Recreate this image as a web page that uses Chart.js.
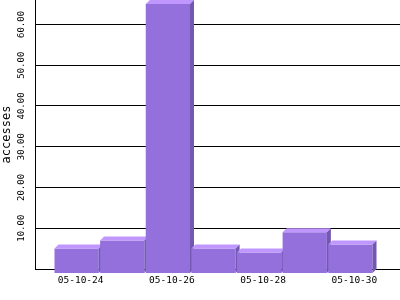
<!DOCTYPE html>
<html>
<head>
<meta charset="utf-8">
<script src="https://cdn.jsdelivr.net/npm/chart.js@4/dist/chart.umd.min.js"></script>
<style>
  html, body { margin: 0; padding: 0; background: #fff; }
  canvas { display: block; }
</style>
</head>
<body>
<canvas id="grafico" width="400" height="300"></canvas>
<script>
const dias = ['05-10-24', '05-10-25', '05-10-26', '05-10-27', '05-10-28', '05-10-29', '05-10-30'];
const accesos = [6, 8, 66, 6, 5, 10, 7];
const ticksY = [10, 20, 30, 40, 50, 60];
const ticksX = [0, 2, 4, 6];

const PROF = 4; // profundidad del efecto 3d

// dibuja cada barra con cara frontal, tapa y lateral
const barras3d = {
    id: 'barras3d',
    beforeDatasetDraw(chart, args) {
        const ctx = chart.ctx;
        const meta = args.meta;
        meta.data.forEach(el => {
            const p = el.getProps(['x', 'y', 'base', 'width'], true);
            const izq = p.x - p.width / 2 - PROF;
            const der = p.x + p.width / 2 - PROF;
            const arriba = p.y + PROF;
            const abajo = p.base + PROF;

            ctx.save();
            ctx.translate(-PROF, PROF);
            el.draw(ctx);
            ctx.restore();

            ctx.fillStyle = '#c096ff';
            ctx.beginPath();
            ctx.moveTo(izq, arriba);
            ctx.lineTo(izq + PROF, arriba - PROF);
            ctx.lineTo(der + PROF, arriba - PROF);
            ctx.lineTo(der, arriba);
            ctx.closePath();
            ctx.fill();

            ctx.fillStyle = '#7358b0';
            ctx.beginPath();
            ctx.moveTo(der, arriba);
            ctx.lineTo(der + PROF, arriba - PROF);
            ctx.lineTo(der + PROF, abajo - PROF);
            ctx.lineTo(der, abajo);
            ctx.closePath();
            ctx.fill();
        });
        return false;
    }
};

const sinPadding = scale => {
    scale.paddingTop = 0;
    scale.paddingBottom = 0;
    scale.paddingLeft = 0;
    scale.paddingRight = 0;
};

const data = {
    datasets: [{
        data: dias.map((d, i) => ({ x: i, y: accesos[i] })),
        backgroundColor: '#9370db',
        borderWidth: 0,
        barPercentage: 0.97,
        categoryPercentage: 1
    }]
};

const config = {
    type: 'bar',
    data: data,
    options: {
        responsive: false,
        animation: false,
        layout: { padding: 0 },
        plugins: {
            legend: { display: false },
            tooltip: { enabled: false }
        },
        scales: {
            x: {
                type: 'linear',
                min: -1,
                max: 7,
                offset: false,
                grid: { display: false, drawTicks: false },
                border: { display: true, color: '#000', width: 1 },
                afterBuildTicks: scale => { scale.ticks = ticksX.map(v => ({ value: v })); },
                afterFit: scale => { scale.height = 31; sinPadding(scale); },
                ticks: {
                    autoSkip: false,
                    maxRotation: 0,
                    padding: 6,
                    color: '#000',
                    font: { family: 'DejaVu Sans Mono', size: 9.5 },
                    callback: v => dias[v]
                }
            },
            y: {
                min: 0,
                max: 66,
                grid: { color: '#000', lineWidth: 1, drawTicks: false },
                border: { display: true, color: '#000', width: 1 },
                afterBuildTicks: scale => { scale.ticks = ticksY.map(v => ({ value: v })); },
                afterFit: scale => { scale.width = 35; sinPadding(scale); },
                ticks: {
                    minRotation: 90,
                    maxRotation: 90,
                    crossAlign: 'center',
                    padding: 0,
                    color: '#000',
                    font: { family: 'DejaVu Sans Mono', size: 9 },
                    callback: v => v.toFixed(2)
                },
                title: {
                    display: true,
                    text: 'accesses',
                    color: '#000',
                    padding: 0,
                    font: { family: 'DejaVu Sans Mono', size: 12 }
                }
            }
        }
    },
    plugins: [barras3d]
};

const myChart = new Chart(document.getElementById('grafico'), config);
</script>
</body>
</html>
